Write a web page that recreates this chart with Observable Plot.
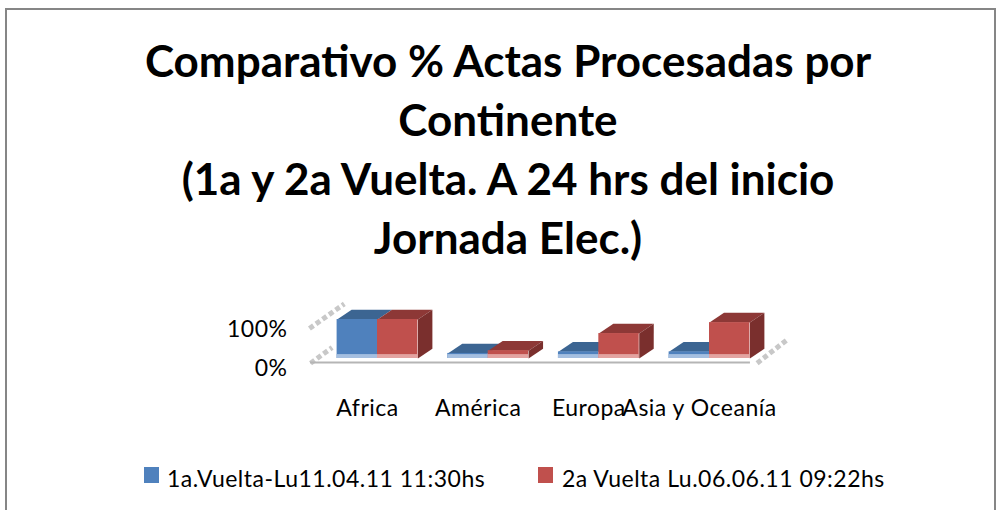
<!DOCTYPE html>
<html><head><meta charset="utf-8">
<script src="https://cdn.jsdelivr.net/npm/d3@7"></script>
<script src="https://cdn.jsdelivr.net/npm/@observablehq/plot@0.6"></script>
<style>
html,body{margin:0;padding:0;background:#fff;overflow:hidden}
#page{position:relative;width:1000px;height:510px;font-family:Lato,sans-serif;color:#000}
#frame{position:absolute;left:5px;top:8px;width:991px;height:520px;border:2px solid #868686;box-sizing:border-box}
#title{position:absolute;left:8px;width:1000px;top:31px;text-align:center;font-weight:700;font-size:44px;line-height:59px}
#chart{position:absolute;left:0;top:270px}
#legend{position:absolute;left:0;top:460px;width:1000px;height:34px;font-size:23px;letter-spacing:0.5px}
#legend i{position:absolute;top:7px;width:15px;height:16px}
#legend span{position:absolute;top:4px;white-space:nowrap}
</style></head><body><div id="page">
<div id="frame"></div>
<div id="title"></div>
<div id="chart"></div>
<div id="legend"></div>
</div>
<script>
const categories = ["Africa", "América", "Europa", "Asia y Oceanía"];
const vuelta1 = [100, 13, 17, 17];
const vuelta2 = [100, 20, 64, 92];
const seriesNames = ["1a.Vuelta-Lu11.04.11 11:30hs", "2a Vuelta Lu.06.06.11 09:22hs"];
const titleLines = ["Comparativo % Actas Procesadas por", "Continente", "(1a y 2a Vuelta. A 24 hrs del inicio", "Jornada Elec.)"];
const blue = {front:"#4f81bd", top:"#3c6592", glow:"#a5bfe0"};
const red = {front:"#c0504d", top:"#8d3836", side:"#7a2f2d", glow:"#e3a3a1"};

const barW = 0.365, dX = 0.131, dY = 25;      // bar half-slot width and 3D depth, in scale units
const glowH = 10;

const bars = categories.flatMap((c, i) => [
  {i, x1: i - barW, x2: i, v: vuelta1[i], pal: blue},
  {i, x1: i, x2: i + barW, v: vuelta2[i], pal: red}
]);
const topFace = b => [[b.x1,b.v],[b.x1+dX,b.v+dY],[b.x2+dX,b.v+dY],[b.x2,b.v]];
const sideFace = b => [[b.x2,0],[b.x2,b.v],[b.x2+dX,b.v+dY],[b.x2+dX,dY]];
const poly = (list, face) => list.flatMap((b, k) => face(b).map(([x,y]) => ({x, y, k})));
const blues = bars.filter(b => b.pal === blue), reds = bars.filter(b => b.pal === red);
const filt = "blur(0.6px)";
const polyMark = (list, face, fill) => Plot.line(poly(list, face), {x:"x", y:"y", z:"k", fill, stroke:"none", imageFilter:filt});

const wall = [
  {k:"a", x:-0.605, y:-12}, {k:"a", x:-0.41, y:28},
  {k:"b", x:-0.615, y:77}, {k:"b", x:-0.30, y:140},
  {k:"c", x:3.43, y:-12}, {k:"c", x:3.71, y:50}
];

document.getElementById("title").innerHTML = titleLines.map(t => `<div>${t}</div>`).join("");
document.getElementById("legend").innerHTML =
  `<i style="left:144px;background:${blue.front}"></i><span style="left:167px">${seriesNames[0]}</span>` +
  `<i style="left:538px;background:${red.front}"></i><span style="left:562px">${seriesNames[1]}</span>`;

const chart = Plot.plot({
  width: 1000, height: 150,
  style: {background:"transparent", fontFamily:"Lato, sans-serif", fontSize:"23px", letterSpacing:"0.5px", color:"#000", overflow:"visible"},
  x: {type:"linear", domain:[0,3], range:[377,709]},
  y: {type:"linear", domain:[0,100], range:[88,49]},
  marks: [
    Plot.line(wall, {x:"x", y:"y", z:"k", stroke:"#c8c8c8", strokeWidth:5, strokeLinecap:"butt", strokeDasharray:"5 3", imageFilter:"blur(0.4px)"}),
    Plot.ruleY([-10], {x1:-0.605, x2:3.37, stroke:"#b5b5b5", strokeWidth:2}),
    polyMark(blues, topFace, blue.top),
    polyMark(reds, topFace, red.top),
    polyMark(reds, sideFace, red.side),
    Plot.rect(blues, {x1:"x1", x2:"x2", y1:0, y2:"v", fill:blue.front, imageFilter:filt}),
    Plot.rect(reds, {x1:"x1", x2:"x2", y1:0, y2:"v", fill:red.front, imageFilter:filt}),
    Plot.rect(blues, {x1:"x1", x2:"x2", y1:0, y2:glowH, fill:blue.glow, imageFilter:filt}),
    Plot.rect(reds, {x1:"x1", x2:"x2", y1:0, y2:glowH, fill:red.glow, imageFilter:filt}),
    Plot.axisY({ticks:[0,100], tickFormat:d => d + "%", tickSize:0, anchor:"left", label:null, frameAnchor:"left", dx:247, dy:10, tickPadding:0, fontSize:23}),
    Plot.axisX({ticks:[0,1,2,3], tickFormat:d => categories[d], tickSize:0, label:null, dx:-10, dy:9, tickPadding:0, fontSize:23})
  ]
});
document.getElementById("chart").appendChild(chart);
</script>
</body></html>
